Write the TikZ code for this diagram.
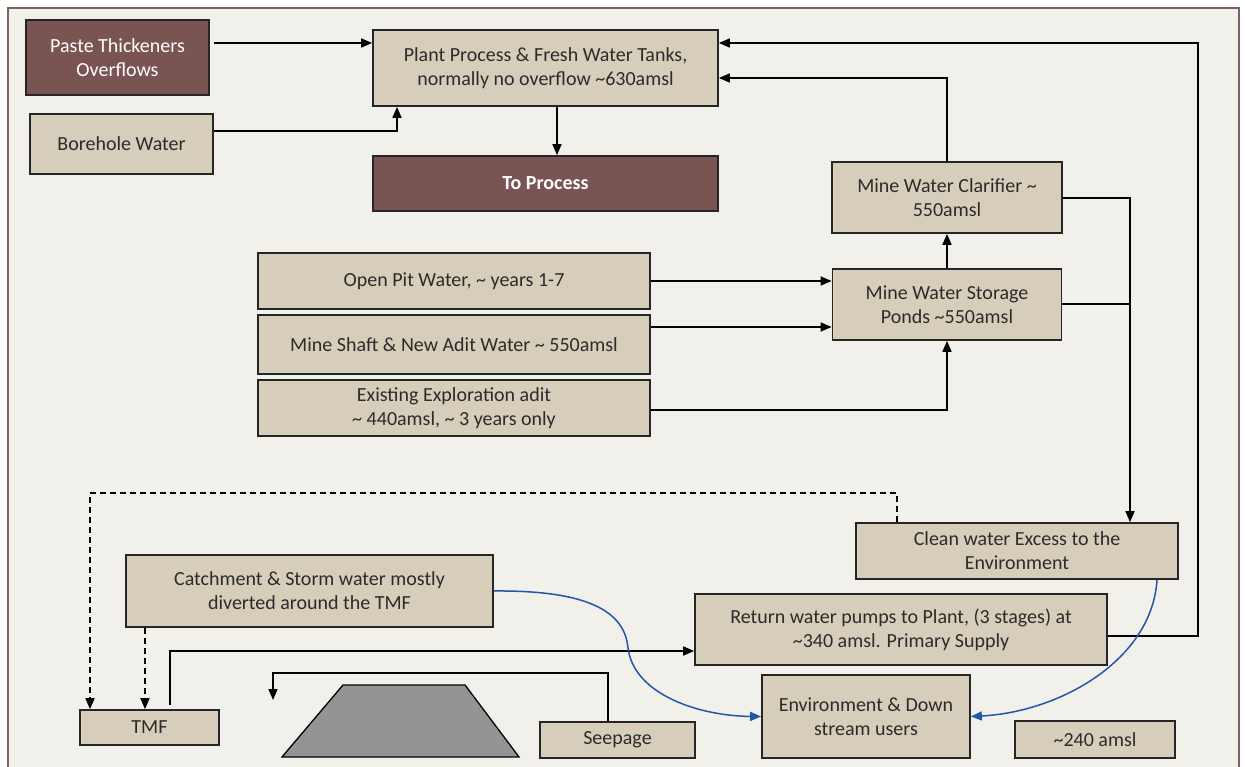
\documentclass[tikz,border=0pt]{standalone}
\usepackage{fontspec}
\setmainfont{Carlito}
\usetikzlibrary{arrows.meta,calc}
\definecolor{tan}{HTML}{D6CEBB}
\definecolor{maroon}{HTML}{7A5353}
\definecolor{bg}{HTML}{F2F0EB}
\definecolor{framec}{HTML}{7E6262}
\definecolor{txt}{HTML}{2B2B2B}
\definecolor{flow}{HTML}{2356A8}
\begin{document}
\begin{tikzpicture}[x=1pt,y=-1pt,
  box/.style={draw=black!85,line width=1.7pt,fill=tan,text=txt,align=center,inner sep=2pt,font=\fontsize{20}{24}\selectfont},
  mbox/.style={box,fill=maroon,text=white},
  arr/.style={line width=1.6pt,-{Triangle[length=11pt,width=9pt]}},
  ln/.style={line width=1.6pt},
  blu/.style={line width=1.5pt,draw=flow,-{Triangle[length=11pt,width=9pt]},flow}]
\useasboundingbox (0,0) rectangle (1245,767);
\fill[white] (0,0) rectangle (1245,767);
\draw[framec,line width=2.5pt,fill=bg] (8,8) rectangle (1239,790);
% nodes
\node[mbox,minimum width=183pt,minimum height=75pt] (paste) at (117.5,57.5) {Paste Thickeners\\Overflows};
\node[box,minimum width=183pt,minimum height=60pt] (bore) at (121.5,144) {Borehole Water};
\node[box,minimum width=345pt,minimum height=76pt] (plant) at (545.5,68) {Plant Process \& Fresh Water Tanks,\\normally no overflow \textasciitilde630amsl};
\node[mbox,minimum width=345pt,minimum height=55pt,font=\fontsize{20}{24}\selectfont\bfseries] (toproc) at (545.5,183.5) {To Process};
\node[box,minimum width=230pt,minimum height=71pt] (clar) at (947,197.5) {Mine Water Clarifier \textasciitilde\\550amsl};
\node[box,minimum width=229pt,minimum height=71pt] (stor) at (947,304.5) {Mine Water Storage\\Ponds \textasciitilde550amsl};
\node[box,minimum width=392pt,minimum height=56pt] (open) at (454,281) {Open Pit Water, \textasciitilde{} years 1-7};
\node[box,minimum width=392pt,minimum height=59pt] (shaft) at (454,344.5) {Mine Shaft \& New Adit Water \textasciitilde{} 550amsl};
\node[box,minimum width=392pt,minimum height=56pt] (expl) at (454,408) {Existing Exploration adit\\\textasciitilde{} 440amsl, \textasciitilde{} 3 years only};
\node[box,minimum width=322pt,minimum height=56pt] (clean) at (1017,551) {Clean water Excess to the\\Environment};
\node[box,minimum width=367pt,minimum height=72pt] (catch) at (309.5,591) {Catchment \& Storm water mostly\\diverted around the TMF};
\node[box,minimum width=412pt,minimum height=71pt] (ret) at (901,629.5) {Return water pumps to Plant, (3 stages) at\\\textasciitilde340 amsl. Primary Supply};
\node[box,minimum width=139pt,minimum height=35pt] (tmf) at (149.5,727.5) {TMF};
\node[box,minimum width=208pt,minimum height=83pt] (env) at (866,716.5) {Environment \& Down\\stream users};
\node[box,minimum width=155pt,minimum height=36pt] (seep) at (617.5,740) {Seepage};
\node[box,minimum width=160pt,minimum height=37pt] (amsl) at (1095,739.5) {\textasciitilde240 amsl};
\draw[line width=1.3pt,fill=black!42] (282,757) -- (343,685) -- (465,685) -- (519,757) -- cycle;
\coordinate (seepend) at (273,700);
% connectors
\draw[arr] ([xshift=4pt]paste.east |- 0,43) -- (plant.west |- 0,43);
\draw[arr] (bore.east |- 0,131) -| (plant.south -| 397,0);
\draw[arr] (plant.south -| 557,0) -- (toproc.north -| 557,0);
\draw[arr] (ret.east |- 0,636) -- (1198,636) -- (1198,43) -- (plant.east |- 0,43);
\draw[arr] (clar.north) -- (clar.north |- 0,78) -- (plant.east |- 0,78);
\draw[arr] (stor.north) -- (clar.south);
\draw[arr] (clar.east |- 0,198) -- (1130,198) -- (clean.north -| 1130,0);
\draw[ln] (stor.east |- 0,304) -- (1130,304);
\draw[arr] (open.east) -- (stor.west |- open.east);
\draw[arr] (shaft.east |- 0,327) -- (stor.west |- 0,327);
\draw[arr] (expl.east |- 0,410) -- (947,410) -- (stor.south);
\draw[arr,dashed,dash pattern=on 6pt off 4pt] (clean.north -| 897,0) -- (897,493) -- (90,493) -- (tmf.north -| 90,0);
\draw[arr,dashed,dash pattern=on 6pt off 4pt] (catch.south -| 145,0) -- (tmf.north -| 145,0);
\draw[arr] ([yshift=4pt]tmf.north -| 170,0) -- (170,651) -- (ret.west |- 0,651);
\draw[arr] (seep.north -| 608,0) -- (608,673) -- (273,673) -- (seepend);
\draw[blu] (catch.east) .. controls (595,590) and (625,615) .. (628,648) .. controls (634,695) and (700,716) .. (env.west);
\draw[blu] (clean.south -| 1157,0) .. controls (1152,660) and (1060,712) .. (env.east);
\end{tikzpicture}
\end{document}
